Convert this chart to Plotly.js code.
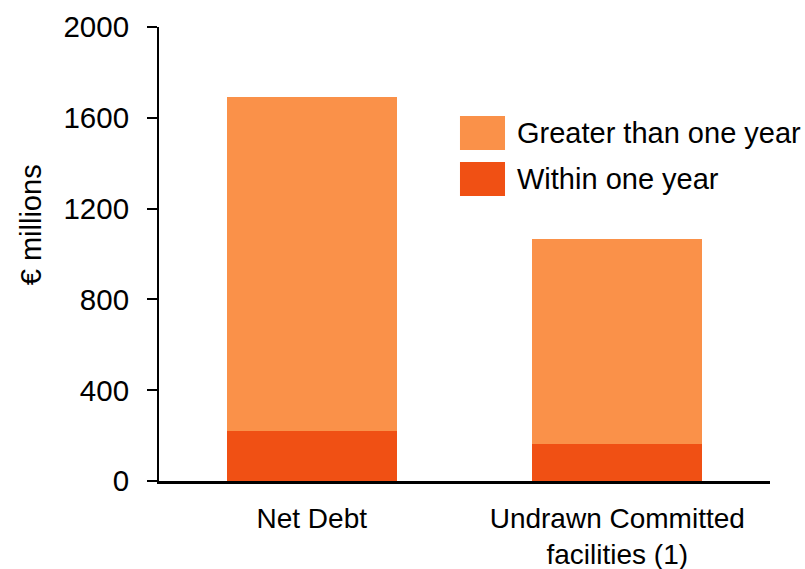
<!DOCTYPE html>
<html>
<head>
<meta charset="utf-8">
<script src="https://cdn.plot.ly/plotly-3.0.1.min.js"></script>
<style>html,body{margin:0;padding:0;background:#fff;}#chart{width:805px;height:569px;}</style>
</head>
<body>
<div id="chart"></div>
<script>
const categories = ["Net Debt", "Undrawn Committed<br>facilities (1)"];
const withinOneYear = [220, 165];
const greaterThanOneYear = [1470, 900];
const seriesNames = ["Within one year", "Greater than one year"];
const yTicks = [0, 400, 800, 1200, 1600, 2000];
const yTitle = "€ millions";

const colWithin = "#F05014";
const colGreater = "#FA9149";
const FONT = "Liberation Sans, Arial, sans-serif";

const traces = [
  {type: "bar", name: seriesNames[0], x: categories, y: withinOneYear,
   marker: {color: colWithin, line: {width: 0}}, showlegend: false, hoverinfo: "y"},
  {type: "bar", name: seriesNames[1], x: categories, y: greaterThanOneYear,
   marker: {color: colGreater, line: {width: 0}}, showlegend: false, hoverinfo: "y"}
];

// legend drawn manually (large swatches as in reference)
const legendItems = [
  {name: seriesNames[1], color: colGreater, y0: 0.804, y1: 0.729},
  {name: seriesNames[0], color: colWithin, y0: 0.7026, y1: 0.6278}
];
const shapes = legendItems.map(it => ({
  type: "rect", xref: "paper", yref: "paper",
  x0: 0.4926, x1: 0.5663, y0: it.y1, y1: it.y0,
  fillcolor: it.color, line: {width: 0}
}));
const annotations = legendItems.map(it => ({
  xref: "paper", yref: "paper", x: 0.582, y: (it.y0 + it.y1) / 2,
  xanchor: "left", yanchor: "middle", text: it.name, showarrow: false,
  font: {family: FONT, size: 29, color: "#000"}
}));
annotations.push({
  xref: "paper", yref: "paper", x: -0.209, y: 0.564,
  xanchor: "center", yanchor: "middle", textangle: -90,
  text: yTitle, showarrow: false,
  font: {family: FONT, size: 29, color: "#000"}
});

const layout = {
  width: 805, height: 569,
  margin: {l: 159, r: 35, t: 27, b: 88},
  barmode: "stack",
  bargap: 0.444,
  paper_bgcolor: "#fff", plot_bgcolor: "#fff",
  font: {family: FONT, size: 28, color: "#000"},
  xaxis: {
    showline: true, linecolor: "#000", linewidth: 3,
    ticks: "", showgrid: false, zeroline: false,
    ticklabelstandoff: 10,
    tickfont: {family: FONT, size: 28}
  },
  yaxis: {
    range: [0, 2000], tickvals: yTicks, ticktext: yTicks.map(String),
    showline: true, linecolor: "#000", linewidth: 2,
    ticks: "outside", ticklen: 10, tickwidth: 2, tickcolor: "#000",
    showgrid: false, zeroline: false,
    ticklabelstandoff: 12,
    tickfont: {family: FONT, size: 29.5}
  },
  shapes: shapes,
  annotations: annotations
};

Plotly.newPlot("chart", traces, layout, {displayModeBar: false, staticPlot: true});
</script>
</body>
</html>
